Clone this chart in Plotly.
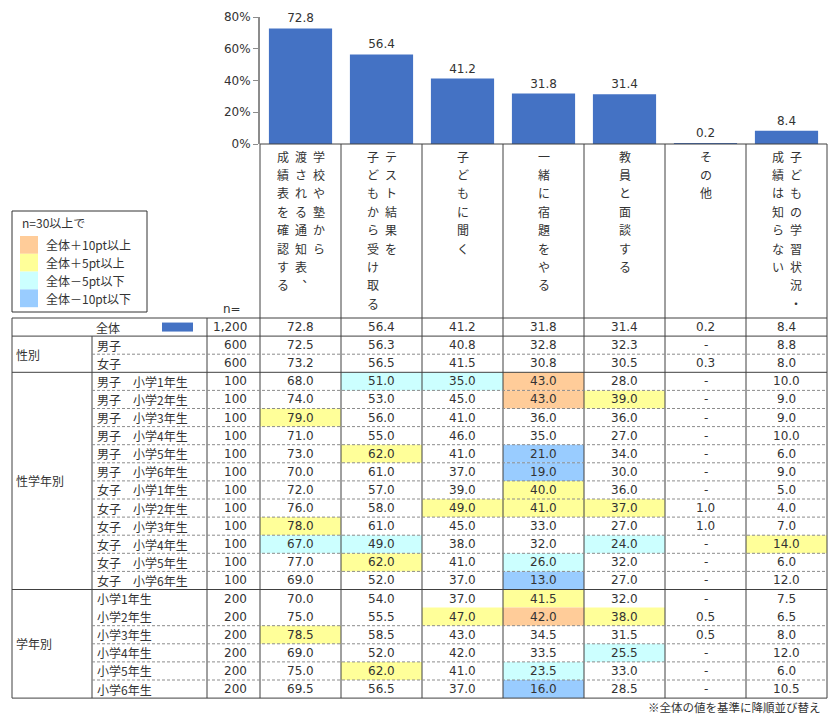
import plotly.graph_objects as go

W, H = 837, 720

# ---- data ----------------------------------------------------------------
header_lines = [
    ["学校や塾から", "渡される通知表、", "成績表を確認する"],
    ["テスト結果を", "子どもから受け取る"],
    ["子どもに聞く"],
    ["一緒に宿題をやる"],
    ["教員と面談する"],
    ["その他"],
    ["子どもの学習状況・", "成績は知らない"],
]
categories = ["".join(lines) for lines in header_lines]

groups = ["性別", "性学年別", "学年別"]
group_sizes = [2, 12, 6]

row_labels = [
    "全体",
    "男子", "女子",
    "男子　小学1年生", "男子　小学2年生", "男子　小学3年生",
    "男子　小学4年生", "男子　小学5年生", "男子　小学6年生",
    "女子　小学1年生", "女子　小学2年生", "女子　小学3年生",
    "女子　小学4年生", "女子　小学5年生", "女子　小学6年生",
    "小学1年生", "小学2年生", "小学3年生",
    "小学4年生", "小学5年生", "小学6年生",
]
row_n = [1200, 600, 600,
         100, 100, 100, 100, 100, 100, 100, 100, 100, 100, 100, 100,
         200, 200, 200, 200, 200, 200]

report = [72.8, 72.5, 73.2, 68.0, 74.0, 79.0, 71.0, 73.0, 70.0, 72.0, 76.0,
          78.0, 67.0, 77.0, 69.0, 70.0, 75.0, 78.5, 69.0, 75.0, 69.5]
test = [56.4, 56.3, 56.5, 51.0, 53.0, 56.0, 55.0, 62.0, 61.0, 57.0, 58.0,
        61.0, 49.0, 62.0, 52.0, 54.0, 55.5, 58.5, 52.0, 62.0, 56.5]
ask = [41.2, 40.8, 41.5, 35.0, 45.0, 41.0, 46.0, 41.0, 37.0, 39.0, 49.0,
       45.0, 38.0, 41.0, 37.0, 37.0, 47.0, 43.0, 42.0, 41.0, 37.0]
homework = [31.8, 32.8, 30.8, 43.0, 43.0, 36.0, 35.0, 21.0, 19.0, 40.0, 41.0,
            33.0, 32.0, 26.0, 13.0, 41.5, 42.0, 34.5, 33.5, 23.5, 16.0]
teacher = [31.4, 32.3, 30.5, 28.0, 39.0, 36.0, 27.0, 34.0, 30.0, 36.0, 37.0,
           27.0, 24.0, 32.0, 27.0, 32.0, 38.0, 31.5, 25.5, 33.0, 28.5]
other = [0.2, None, 0.3, None, None, None, None, None, None, None, 1.0,
         1.0, None, None, None, None, 0.5, 0.5, None, None, None]
unknown = [8.4, 8.8, 8.0, 10.0, 9.0, 9.0, 10.0, 6.0, 9.0, 5.0, 4.0,
           7.0, 14.0, 6.0, 12.0, 7.5, 6.5, 8.0, 12.0, 6.0, 10.5]

columns = [report, test, ask, homework, teacher, other, unknown]
totals = [col[0] for col in columns]

y_ticks = [0, 20, 40, 60, 80]
legend_labels = ["全体＋10pt以上", "全体＋5pt以上", "全体－5pt以下", "全体－10pt以下"]
legend_colors = ["#FFCC99", "#FFFF99", "#CCFFFF", "#99CCFF"]

# ---- layout constants (pixels) -----------------------------------------------
JP = "Noto Sans CJK JP"
NUM = "DejaVu Sans, Noto Sans CJK JP"
TXT = "#333333"
BAR = "#4472C4"
LINE = "#404040"

tbl_left, cat_right, lab_right, n_right = 12, 92, 207, 260
col_w = 81
col_x = [n_right + col_w * k for k in range(len(columns) + 1)]
tbl_right = col_x[-1]
head_top = 144
row_top = 318
row_h = 18.1
n_rows = len(row_labels)
row_y = [row_top + row_h * i for i in range(n_rows + 1)]


def cell_color(v, base, n):
    if v is None or n < 30:
        return None
    d = round(v - base, 1)
    if d >= 10:
        return legend_colors[0]
    if d >= 5:
        return legend_colors[1]
    if d <= -10:
        return legend_colors[3]
    if d <= -5:
        return legend_colors[2]
    return None


fig = go.Figure()

fig.add_trace(go.Bar(
    x=categories,
    y=totals,
    text=[f"{v:.1f}" for v in totals],
    textposition="outside",
    textfont=dict(family=NUM, size=12, color=TXT),
    marker=dict(color=BAR, line=dict(width=0)),
    cliponaxis=False,
    hoverinfo="skip",
))
# invisible trace so the pixel-coordinate table axes exist
fig.add_trace(go.Scatter(x=[], y=[], xaxis="x2", yaxis="y2",
                         hoverinfo="skip", showlegend=False))

shapes = []
annos = []


def line(x0, y0, x1, y1, dash="solid", color=LINE, width=1):
    shapes.append(dict(type="line", xref="x2", yref="y2", x0=x0, y0=y0,
                       x1=x1, y1=y1, line=dict(color=color, width=width, dash=dash)))


def rect(x0, y0, x1, y1, fill, border=None):
    shapes.append(dict(type="rect", xref="x2", yref="y2", x0=x0, y0=y0,
                       x1=x1, y1=y1, fillcolor=fill,
                       line=dict(color=border or fill, width=1 if border else 0)))


def text(x, y, s, anchor="center", size=12, family=JP, color=TXT):
    annos.append(dict(xref="x2", yref="y2", x=x, y=y, text=s, showarrow=False,
                      xanchor=anchor, yanchor="middle",
                      font=dict(family=family, size=size, color=color)))


# cell fills
for k, col in enumerate(columns):
    for i in range(1, n_rows):
        c = cell_color(col[i], totals[k], row_n[i])
        if c:
            rect(col_x[k], row_y[i], col_x[k + 1], row_y[i + 1], c)

# header vertical text
for k, lines in enumerate(header_lines):
    cx = (col_x[k] + col_x[k + 1]) / 2
    m = len(lines)
    for j, ln in enumerate(lines):
        x = cx + (m - 1) / 2 * 18 - j * 18
        for i, ch in enumerate(ln):
            if ch == "、":
                ch = "︑"
            text(x, 156 + i * 18.4, ch)

# header frame
line(n_right, head_top, tbl_right, head_top)
for x in col_x:
    line(x, head_top, x, row_y[-1])
text(232, 309, "n=", family=NUM)

# body frame
line(tbl_left, row_y[0], tbl_left, row_y[-1])
line(cat_right, row_y[1], cat_right, row_y[-1])
line(lab_right, row_y[0], lab_right, row_y[-1])
line(tbl_left, row_y[0], tbl_right, row_y[0])
line(tbl_left, row_y[1], tbl_right, row_y[1])

start = 1
for g, size in zip(groups, group_sizes):
    end = start + size
    line(tbl_left, row_y[end], tbl_right, row_y[end])
    for i in range(start + 1, end):
        if g == "学年別" and i == start + 1:
            continue
        line(cat_right, row_y[i], tbl_right, row_y[i], dash="3px,2px", color="#8c8c8c")
    text(tbl_left + 2, (row_y[start] + row_y[end]) / 2, g, anchor="left")
    start = end

# row labels, n and values
for i, lab in enumerate(row_labels):
    yc = (row_y[i] + row_y[i + 1]) / 2
    if i == 0:
        text(108, yc, lab)
        rect(162, yc - 4.5, 193, yc + 4.5, BAR)
    else:
        text(cat_right + 3, yc, lab, anchor="left")
    text(n_right - 11, yc, f"{row_n[i]:,}", anchor="right", family=NUM)
    for k, col in enumerate(columns):
        v = col[i]
        s = "-" if v is None else f"{v:.1f}"
        text((col_x[k] + col_x[k + 1]) / 2, yc, s, family=NUM)

# legend box
rect(12, 211, 147, 312, "rgba(0,0,0,0)", border="#333333")
text(20, 222, "n=30以上で", anchor="left")
for j, (lab, c) in enumerate(zip(legend_labels, legend_colors)):
    y0 = 236 + j * 17.8
    rect(20, y0, 38, y0 + 17.8, c)
    text(44, y0 + 8.9, lab, anchor="left")

text(823, 707, "※全体の値を基準に降順並び替え", anchor="right", size=11.5)

fig.update_layout(
    width=W,
    height=H,
    margin=dict(l=0, r=0, t=0, b=0, autoexpand=False),
    paper_bgcolor="white",
    plot_bgcolor="rgba(0,0,0,0)",
    showlegend=False,
    bargap=0.22,
    shapes=shapes,
    annotations=annos,
    xaxis=dict(domain=[n_right / W, tbl_right / W], showticklabels=False,
               showline=False, showgrid=False, zeroline=False, ticks="",
               fixedrange=True, automargin=False),
    yaxis=dict(domain=[1 - head_top / H, 1 - 17 / H], range=[0, 80],
               tickmode="array", tickvals=y_ticks,
               ticktext=[f"{t}%" for t in y_ticks],
               tickfont=dict(family=NUM, size=12, color=TXT),
               showline=True, linecolor="#8c8c8c", linewidth=2,
               ticks="outside", ticklen=5, tickcolor="#8c8c8c",
               showgrid=False, zeroline=False, fixedrange=True,
               automargin=False),
    xaxis2=dict(domain=[0, 1], range=[0, W], visible=False, anchor="y2",
                fixedrange=True, automargin=False),
    yaxis2=dict(domain=[0, 1], range=[H, 0], visible=False, anchor="x2",
                fixedrange=True, automargin=False),
)

fig.write_html("out.html", config={"displayModeBar": False},
               post_script="document.body.style.margin='0';")
